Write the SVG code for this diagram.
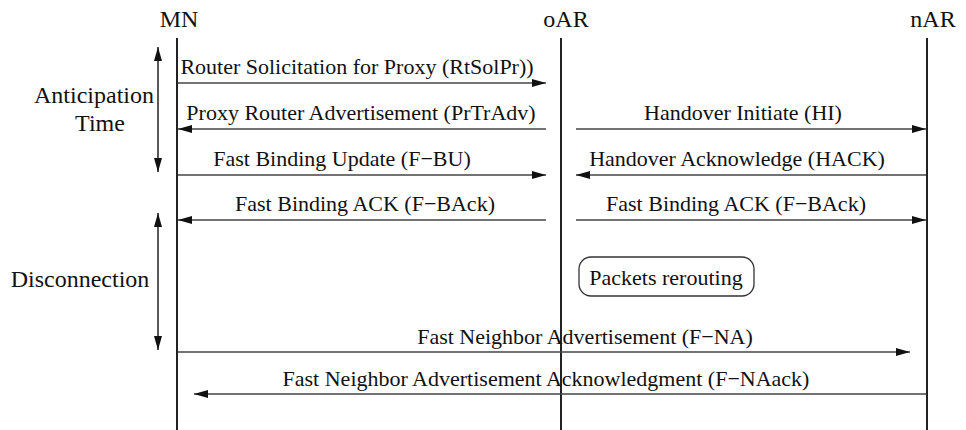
<svg xmlns="http://www.w3.org/2000/svg" width="966" height="430" viewBox="0 0 966 430">
<style>
.lbl{font-family:"Liberation Serif","Times New Roman",serif;font-size:24px;fill:#111}
.msg{font-family:"Liberation Serif","Times New Roman",serif;font-size:22px;fill:#111}
.life{stroke:#222;stroke-width:2;fill:none}
.m{stroke:#444;stroke-width:1.3;fill:none;marker-end:url(#ah)}
.dbl{stroke:#222;stroke-width:1.5;fill:none;marker-start:url(#ah2);marker-end:url(#ah2)}
</style>
<defs>
<marker id="ah" markerUnits="userSpaceOnUse" markerWidth="15" markerHeight="9" refX="14" refY="4" orient="auto"><path d="M0,0 L14,4 L0,8 z" fill="#111"/></marker>
<marker id="ah2" markerUnits="userSpaceOnUse" markerWidth="15" markerHeight="9" refX="14" refY="4" orient="auto-start-reverse"><path d="M0,0 L14,4 L0,8 z" fill="#111"/></marker>
</defs>
<rect width="966" height="430" fill="#fff"/>
<g id="MN"><text class="lbl" x="179" y="27" text-anchor="middle">MN</text><line class="life" x1="177" y1="38" x2="177" y2="430"/></g>
<g id="oAR"><text class="lbl" x="566" y="27" text-anchor="middle">oAR</text><line class="life" x1="561" y1="38" x2="561" y2="430"/></g>
<g id="nAR"><text class="lbl" x="933" y="27" text-anchor="middle">nAR</text><line class="life" x1="927" y1="38" x2="927" y2="430"/></g>
<g id="anticipation"><text class="lbl" x="94" y="103" text-anchor="middle">Anticipation</text><text class="lbl" x="100" y="131" text-anchor="middle">Time</text><line class="dbl" x1="158" y1="47" x2="158" y2="172"/></g>
<g id="disconnection"><text class="lbl" x="80" y="287" text-anchor="middle">Disconnection</text><line class="dbl" x1="158" y1="213" x2="158" y2="350"/></g>
<g id="packets"><rect x="579" y="257" width="175" height="39" rx="12" ry="12" fill="#fff" stroke="#333" stroke-width="1.3"/><text class="msg" x="666" y="285" text-anchor="middle">Packets rerouting</text></g>
<g id="connectors">
<line class="m" x1="178" y1="83" x2="546" y2="83"/>
<text class="msg" x="357" y="74" text-anchor="middle">Router Solicitation for Proxy (RtSolPr))</text>
<line class="m" x1="546" y1="129" x2="178" y2="129"/>
<text class="msg" x="361" y="120" text-anchor="middle">Proxy Router Advertisement (PrTrAdv)</text>
<line class="m" x1="576" y1="129" x2="926" y2="129"/>
<text class="msg" x="743" y="120" text-anchor="middle">Handover Initiate (HI)</text>
<line class="m" x1="178" y1="175" x2="546" y2="175"/>
<text class="msg" x="342" y="166" text-anchor="middle">Fast Binding Update (F−BU)</text>
<line class="m" x1="926" y1="175" x2="576" y2="175"/>
<text class="msg" x="737" y="166" text-anchor="middle">Handover Acknowledge (HACK)</text>
<line class="m" x1="546" y1="220" x2="178" y2="220"/>
<text class="msg" x="365" y="211" text-anchor="middle">Fast Binding ACK (F−BAck)</text>
<line class="m" x1="576" y1="220" x2="926" y2="220"/>
<text class="msg" x="736" y="211" text-anchor="middle">Fast Binding ACK (F−BAck)</text>
<line class="m" x1="178" y1="352" x2="910" y2="352"/>
<text class="msg" x="585" y="344" text-anchor="middle">Fast Neighbor Advertisement (F−NA)</text>
<line class="m" x1="926" y1="394" x2="194" y2="394"/>
<text class="msg" x="546" y="386" text-anchor="middle">Fast Neighbor Advertisement Acknowledgment (F−NAack)</text>
</g>
</svg>
